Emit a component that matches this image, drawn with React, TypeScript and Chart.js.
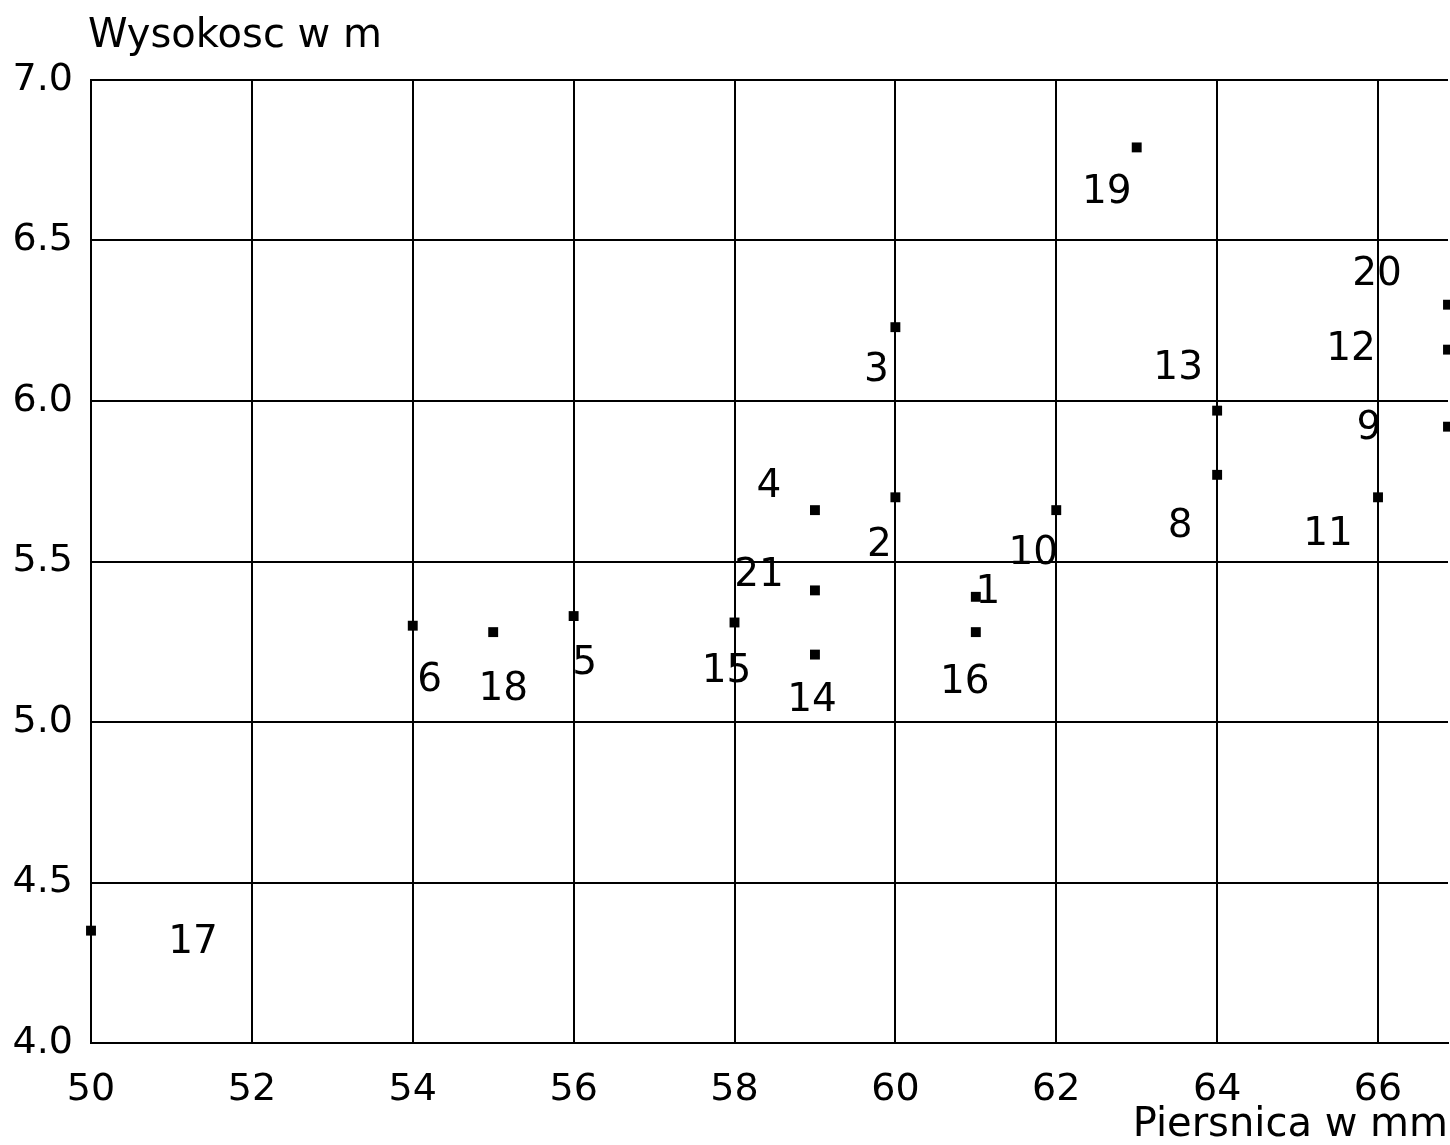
import React, { useEffect, useRef } from 'react';
import { Chart, registerables } from 'chart.js';

Chart.register(...registerables);

// Tree numbers, breast-height diameter (mm) and height (m)
const treeIds = ['1', '2', '3', '4', '5', '6', '8', '9', '10', '11', '12', '13', '14', '15', '16', '17', '18', '19', '20', '21'];
const diameters = [61, 60, 60, 59, 56, 54, 64, 66.87, 62, 66, 66.87, 64, 59, 58, 61, 50, 55, 63, 66.87, 59];
const heights = [5.39, 5.70, 6.23, 5.66, 5.33, 5.30, 5.77, 5.92, 5.66, 5.70, 6.16, 5.97, 5.21, 5.31, 5.28, 4.35, 5.28, 6.79, 6.30, 5.41];

const xMin = 50;
const xMax = 66.87;
const xStep = 2;
const yMin = 4.0;
const yMax = 7.0;
const yStep = 0.5;

const yAxisTitle = 'Wysokosc w m';
const xAxisTitle = 'Piersnica w mm';

// label placement relative to each point (pixels)
const labelOffsets: [number, number][] = [
  [12, -4], [-16, 49], [-19, 44], [-46, -23], [11, 48], [17, 55], [-37, 52], [-79, 2],
  [-23, 44], [-50, 38], [-97, 0], [-39, -42], [-3, 46], [-8, 49], [-11, 51], [102, 12],
  [10, 58], [-30, 45], [-71, -30], [-56, -15],
];

const FONT = '"DejaVu Sans", "Liberation Sans", sans-serif';

export default function App() {
  const ref = useRef<HTMLCanvasElement | null>(null);

  useEffect(() => {
    if (!ref.current) return;

    const labelsPlugin = {
      id: 'pointLabels',
      afterDatasetsDraw(chart: any) {
        const ctx = chart.ctx;
        const meta = chart.getDatasetMeta(0);
        ctx.save();
        ctx.fillStyle = '#000';
        ctx.font = `39px ${FONT}`;
        ctx.textAlign = 'center';
        ctx.textBaseline = 'middle';
        meta.data.forEach((pt: any, i: number) => {
          const [dx, dy] = labelOffsets[i];
          ctx.fillText(treeIds[i], pt.x + dx, pt.y + dy);
        });
        ctx.restore();
      },
      afterDraw(chart: any) {
        const ctx = chart.ctx;
        ctx.save();
        ctx.fillStyle = '#000';
        ctx.font = `40px ${FONT}`;
        ctx.textAlign = 'left';
        ctx.textBaseline = 'alphabetic';
        ctx.fillText(yAxisTitle, chart.chartArea.left - 3, 47);
        ctx.restore();
      },
    };

    const chart = new Chart(ref.current, {
      type: 'scatter',
      data: {
        datasets: [
          {
            data: diameters.map((x, i) => ({ x, y: heights[i] })),
            pointStyle: 'rect',
            pointRadius: 7,
            pointBackgroundColor: '#000',
            pointBorderColor: '#000',
            pointBorderWidth: 0,
            clip: false as any,
          },
        ],
      },
      options: {
        animation: false,
        responsive: false,
        devicePixelRatio: 1,
        layout: { padding: { top: 80, right: 1, left: 0, bottom: 0 } },
        plugins: {
          legend: { display: false },
          tooltip: { enabled: false },
        },
        scales: {
          x: {
            type: 'linear',
            min: xMin,
            max: xMax,
            grid: { color: '#000', lineWidth: 2, drawTicks: false },
            border: { display: true, color: '#000', width: 2 },
            ticks: {
              stepSize: xStep,
              includeBounds: false,
              color: '#000',
              font: { family: FONT, size: 38 },
              padding: 24,
              maxRotation: 0,
              autoSkip: false,
            },
            title: {
              display: true,
              text: xAxisTitle,
              align: 'end',
              color: '#000',
              font: { family: FONT, size: 40 },
              padding: { top: 0, bottom: -5 },
            },
            afterFit(scale: any) {
              scale.height = 102;
            },
          },
          y: {
            type: 'linear',
            min: yMin,
            max: yMax,
            grid: { color: '#000', lineWidth: 2, drawTicks: false },
            border: { display: true, color: '#000', width: 2 },
            ticks: {
              stepSize: yStep,
              color: '#000',
              font: { family: FONT, size: 38 },
              padding: 18,
              callback: (v: any) => Number(v).toFixed(1),
            },
            afterFit(scale: any) {
              scale.width = 91;
            },
          },
        },
      },
      plugins: [labelsPlugin],
    } as any);

    return () => chart.destroy();
  }, []);

  return (
    <div
      style={{
        position: 'fixed',
        left: 0,
        top: 0,
        width: 1450,
        height: 1145,
        overflow: 'hidden',
        background: '#fff',
      }}
    >
      <canvas ref={ref} width={1455} height={1145} style={{ display: 'block', width: 1455, height: 1145 }} />
    </div>
  );
}
